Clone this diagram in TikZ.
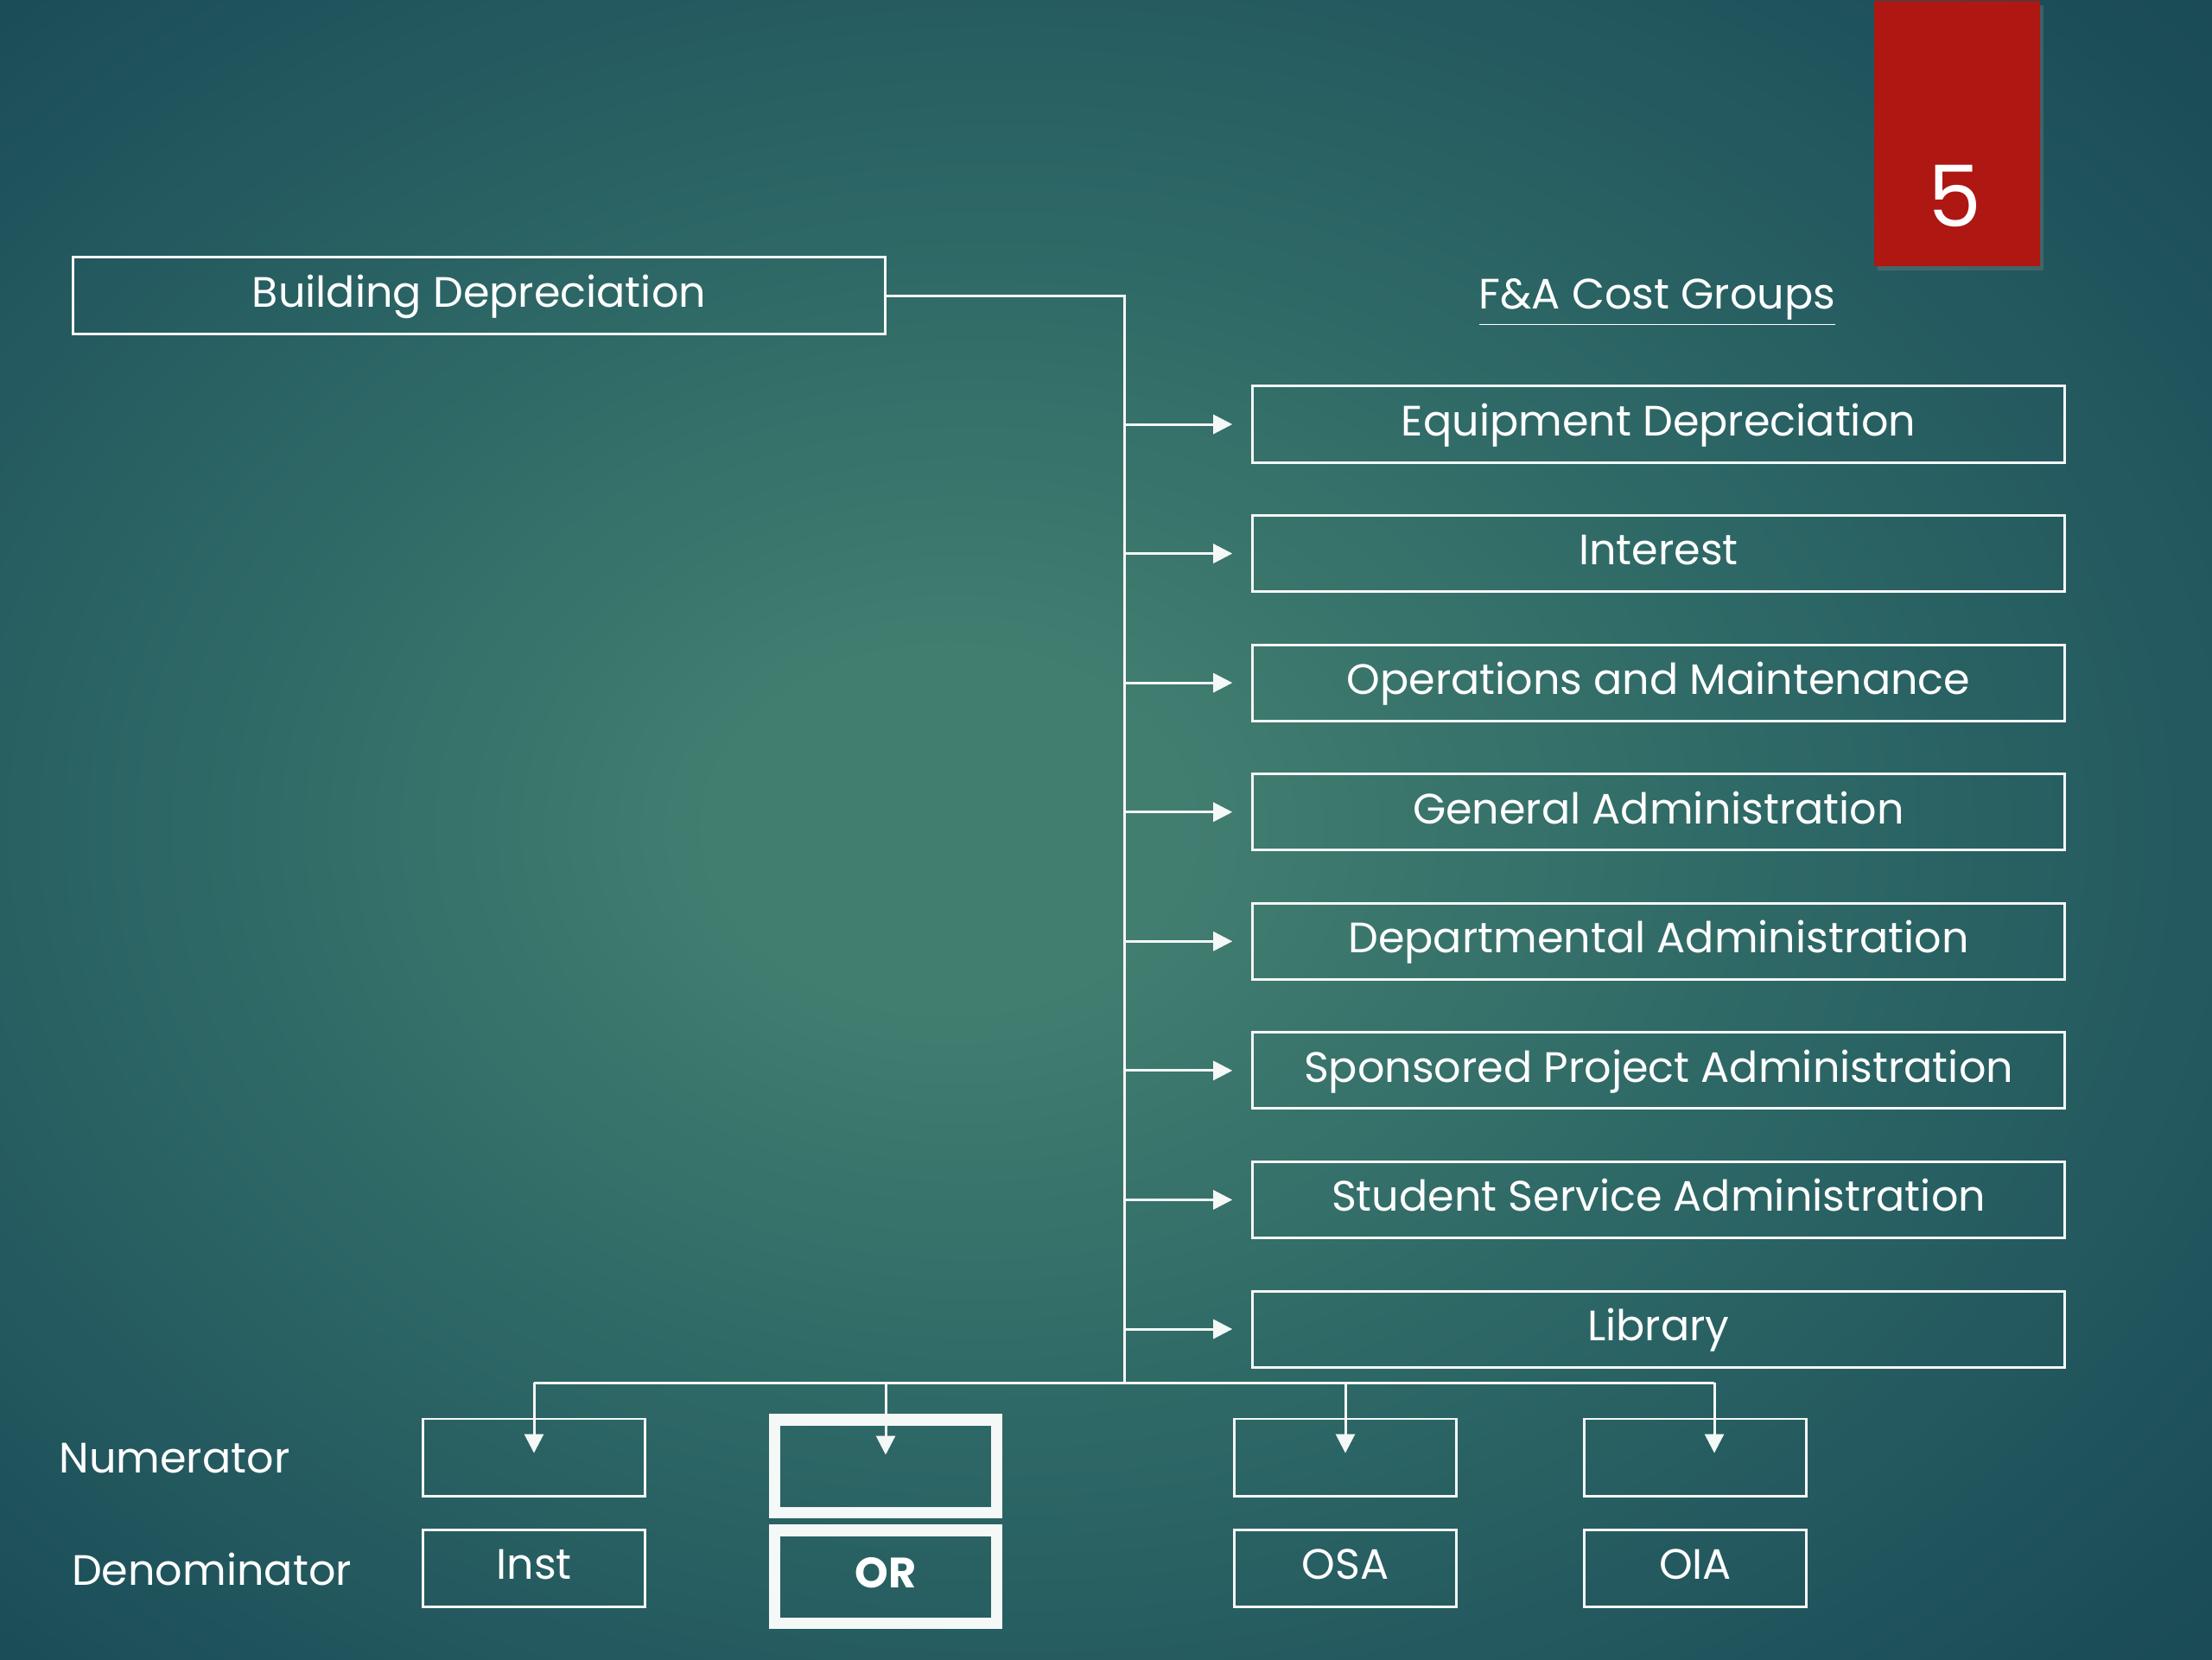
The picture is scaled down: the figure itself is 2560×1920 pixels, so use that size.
\documentclass[tikz,border=0pt]{standalone}
\usepackage{fontspec}
\setmainfont{Poppins}
\usetikzlibrary{positioning, arrows.meta, calc, shadows}
\definecolor{colorline}{HTML}{F4F8F7}
\definecolor{bgcenter}{HTML}{427E70}
\definecolor{bgmid}{HTML}{2E6866}
\definecolor{bgedge}{HTML}{1B4D59}
\definecolor{bgdark}{HTML}{133D48}
\definecolor{slidered}{HTML}{AE1712}
\pgfdeclareradialshading{slidebg}{\pgfpoint{-4bp}{0bp}}{%
    color(0bp)=(bgcenter); color(5bp)=(bgcenter); color(18bp)=(bgmid);
    color(34bp)=(bgedge); color(50bp)=(bgdark)}

\begin{document}
\begin{tikzpicture}[
    % one unit = one pixel of the slide, y pointing down
    x=0.01cm, y=-0.01cm,
    box/.style={
        rectangle,
        draw=colorline,
        line width=0.85pt,
        minimum width=9.39cm,
        minimum height=0.88cm,
        inner sep=0pt,
        text height=0.88em,
        text depth=0.12em,
        text=white,
        font=\fontsize{14}{16}\selectfont
    },
    cellbox/.style={
        box,
        minimum width=2.56cm,
        minimum height=0.89cm
    },
    orbox/.style={
        cellbox,
        line width=3.7pt,
        minimum height=1.07cm,
        font=\fontsize{14}{16}\selectfont\bfseries
    },
    rowlabel/.style={
        text=white,
        font=\fontsize{14}{16}\selectfont
    },
    wire/.style={
        draw=colorline,
        line width=0.85pt
    },
    arrow/.style={
        wire,
        -{Triangle[length=2.2mm, width=2.2mm]}
    }
]

% ==============================
% Slide background
% ==============================
\shade[shading=slidebg] (0,0) rectangle (2560,1920);
\useasboundingbox (0,0) rectangle (2560,1920);

\node[fill=slidered, anchor=north west, inner sep=0pt,
      minimum width=1.92cm, minimum height=3.07cm,
      drop shadow={opacity=0.35, shadow xshift=0.04cm, shadow yshift=-0.05cm}] (slidebox) at (2168,0) {};
\node[text=white, font=\fontsize{28}{30}\selectfont] (slidenum) at (2262,227) {5};

% ==============================
% Source and heading
% ==============================
\node[box] (bldg) at (554.5,342) {Building Depreciation};

\node[rowlabel] (fagroups) at (1918,350) {\underline{F\&A Cost Groups}};

% ==============================
% F&A cost group boxes
% ==============================
\node[box] (equip) at (1919.5,491) {Equipment Depreciation};
\node[box, below=0.585cm of equip] (interest) {Interest};
\node[box, below=0.585cm of interest] (opmaint) {Operations and Maintenance};
\node[box, below=0.585cm of opmaint] (genadmin) {General Administration};
\node[box, below=0.585cm of genadmin] (deptadmin) {Departmental Administration};
\node[box, below=0.585cm of deptadmin] (spadmin) {Sponsored Project Administration};
\node[box, below=0.585cm of spadmin] (ssadmin) {Student Service Administration};
\node[box, below=0.585cm of ssadmin] (library) {Library};

% ==============================
% Numerator / denominator rows
% ==============================
\node[rowlabel] (numlabel) at (202,1688) {Numerator};
\node[rowlabel] (denlabel) at (245,1816) {Denominator};

\node[cellbox] (numinst) at (618,1686.5) {};
\node[cellbox] (deninst) at (618,1814.5) {Inst};

\node[orbox] (numor) at (1025,1696.5) {};
\node[orbox] (denor) at (1025,1824.5) {OR};

\node[cellbox] (numosa) at (1557,1686.5) {};
\node[cellbox] (denosa) at (1557,1814.5) {OSA};

\node[cellbox] (numoia) at (1962,1686.5) {};
\node[cellbox] (denoia) at (1962,1814.5) {OIA};

% ==============================
% Connectors
% ==============================
\coordinate (trunk) at (1301,342);
\coordinate (busmid) at (1301,1600);
\coordinate (oiadrop) at ([xshift=0.22cm]numoia.north);

\draw[wire] (bldg.east) -- (trunk) -- (busmid);
\draw[wire] (numinst.north |- busmid) -- (oiadrop |- busmid);

% Arrows from the trunk to each cost group
\draw[arrow] (equip.west -| trunk) -- ([xshift=-0.22cm]equip.west);
\draw[arrow] (interest.west -| trunk) -- ([xshift=-0.22cm]interest.west);
\draw[arrow] (opmaint.west -| trunk) -- ([xshift=-0.22cm]opmaint.west);
\draw[arrow] (genadmin.west -| trunk) -- ([xshift=-0.22cm]genadmin.west);
\draw[arrow] (deptadmin.west -| trunk) -- ([xshift=-0.22cm]deptadmin.west);
\draw[arrow] (spadmin.west -| trunk) -- ([xshift=-0.22cm]spadmin.west);
\draw[arrow] (ssadmin.west -| trunk) -- ([xshift=-0.22cm]ssadmin.west);
\draw[arrow] (library.west -| trunk) -- ([xshift=-0.22cm]library.west);

% Drops from the bus into the numerator boxes
\draw[arrow] (numinst.north |- busmid) -- ([yshift=-0.41cm]numinst.north);
\draw[arrow] (numor.north |- busmid) -- ([yshift=-0.47cm]numor.north);
\draw[arrow] (numosa.north |- busmid) -- ([yshift=-0.41cm]numosa.north);
\draw[arrow] (oiadrop |- busmid) -- ([yshift=-0.41cm]oiadrop);

\end{tikzpicture}
\end{document}
